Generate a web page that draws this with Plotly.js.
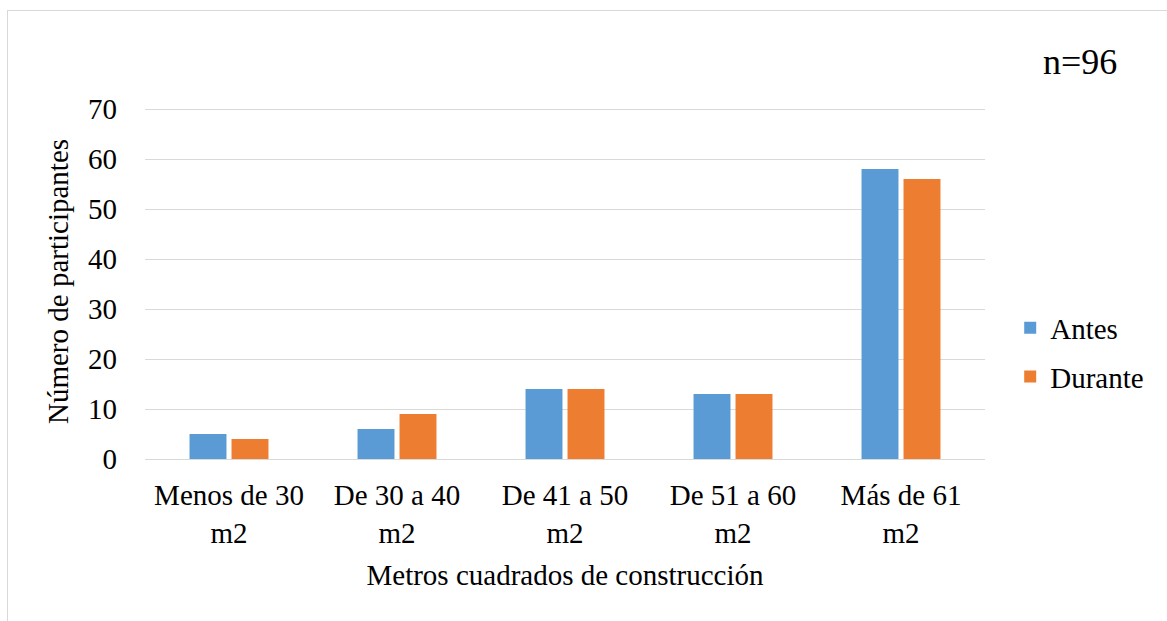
<!DOCTYPE html>
<html>
<head>
<meta charset="utf-8">
<script src="https://cdn.plot.ly/plotly-3.0.1.min.js"></script>
<style>
body{margin:0;padding:0;background:#fff;}
#wrap{position:relative;width:1167px;height:621px;}
#chart{width:1167px;height:621px;}
#frame{position:absolute;left:7px;top:10px;width:1170px;height:620px;border:1px solid #d9d9d9;pointer-events:none;}
</style>
</head>
<body>
<div id="wrap"><div id="chart"></div><div id="frame"></div></div>
<script>
var categories = ["Menos de 30<br>m2", "De 30 a 40<br>m2", "De 41 a 50<br>m2", "De 51 a 60<br>m2", "Más de 61<br>m2"];
var antes = [5, 6, 14, 13, 58];
var durante = [4, 9, 14, 13, 56];
var yTicks = [0, 10, 20, 30, 40, 50, 60, 70];

var font = "'Liberation Serif', 'Times New Roman', serif";
var fs = 29;
var traces = [
  {type: "bar", name: "Antes", legendgroup: "a", x: categories, y: antes, marker: {color: "#5b9bd5"}},
  {type: "bar", name: "Durante", legendgroup: "b", x: categories, y: durante, marker: {color: "#ed7d31"}}
];
var layout = {
  width: 1167, height: 621,
  margin: {l: 145, r: 182, t: 104, b: 162},
  paper_bgcolor: "#fff", plot_bgcolor: "#fff",
  font: {family: font, size: fs, color: "#000"},
  barmode: "group", bargap: 0.5, bargroupgap: 0.12,
  showlegend: true,
  legend: {x: 1.03, y: 0.30, yanchor: "middle", xanchor: "left", font: {family: font, size: fs}, tracegroupgap: 8, itemwidth: 30},
  xaxis: {
    showgrid: false, showline: true, linecolor: "#d9d9d9", linewidth: 1,
    ticks: "", tickfont: {family: font, size: fs},
    ticklabelstandoff: 10,
    title: {text: "Metros cuadrados de construcción", font: {family: font, size: fs}, standoff: 17},
    fixedrange: true
  },
  yaxis: {
    range: [0, 71], tickvals: yTicks, showgrid: true, gridcolor: "#d9d9d9", gridwidth: 1,
    zeroline: true, zerolinecolor: "#d9d9d9", showline: false, ticks: "",
    ticklabelstandoff: 27,
    tickfont: {family: font, size: fs},
    title: {text: "Número de participantes", font: {family: font, size: fs}, standoff: 10},
    fixedrange: true
  },
  annotations: [{
    xref: "paper", yref: "paper", x: 1.113, y: 1.118, xanchor: "center", yanchor: "middle",
    text: "n=96", showarrow: false, font: {family: font, size: 36, color: "#000"}
  }]
};
Plotly.newPlot("chart", traces, layout, {displayModeBar: false, staticPlot: true});
</script>
</body>
</html>
